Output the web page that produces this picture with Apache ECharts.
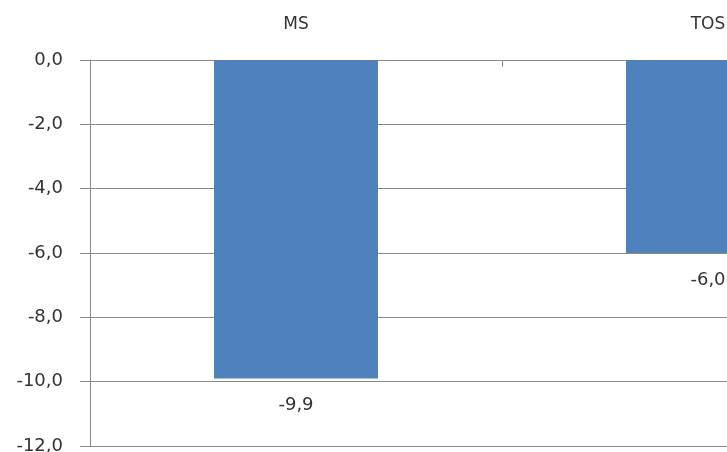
<!DOCTYPE html>
<html><head><meta charset="utf-8">
<script src="https://cdn.jsdelivr.net/npm/echarts@6/dist/echarts.min.js"></script>
<style>html,body{margin:0;padding:0;background:#fff}#c{width:727px;height:452px}</style>
</head><body><div id="c"></div>
<script>
var categories = ['MS', 'TOS'];
var values = [-9.9, -6.0];
var yTicks = { min: -12, max: 0, interval: 2 };

var fmt = function (v) { return Number(v).toFixed(1).replace('.', ','); };
var font = 'DejaVu Sans';
var chart = echarts.init(document.getElementById('c'));
chart.setOption({
  animation: false,
  grid: { left: 90, top: 60, width: 824, height: 386, containLabel: false, outerBoundsMode: 'none' },
  xAxis: {
    type: 'category', data: categories, position: 'top',
    axisLine: { onZero: false, lineStyle: { color: '#8a8a8a', width: 1 } },
    axisTick: { show: true, inside: true, length: 7, interval: 0, lineStyle: { color: '#8a8a8a' } },
    axisLabel: { margin: 27, color: '#333', fontFamily: font, fontSize: 17 },
    splitLine: { show: false }
  },
  yAxis: {
    type: 'value', min: yTicks.min, max: yTicks.max, interval: yTicks.interval,
    axisLine: { show: true, lineStyle: { color: '#8a8a8a', width: 1 } },
    axisTick: { show: true, length: 10, lineStyle: { color: '#8a8a8a' } },
    axisLabel: { margin: 27, color: '#333', fontFamily: font, fontSize: 18, formatter: fmt },
    splitLine: { show: true, lineStyle: { color: '#8a8a8a', width: 1 } }
  },
  series: [{
    type: 'bar', data: values, barWidth: 164,
    itemStyle: { color: '#4F81BD' },
    label: { show: true, position: 'bottom', distance: 18, color: '#333', fontFamily: font, fontSize: 18,
      formatter: function (p) { return fmt(p.value); } }
  }]
});
</script></body></html>
